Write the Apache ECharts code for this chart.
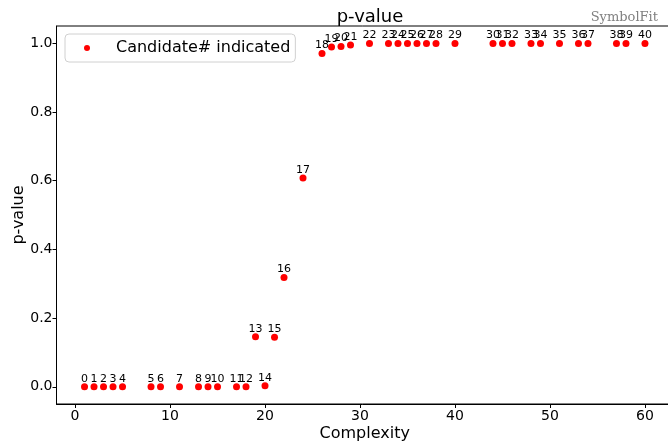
<!DOCTYPE html>
<html>
<head>
<meta charset="utf-8">
<script src="https://cdn.jsdelivr.net/npm/echarts@6/dist/echarts.min.js"></script>
<style>html,body{margin:0;padding:0;background:#fff}#c{width:668px;height:447px}</style>
</head>
<body>
<div id="c"></div>
<script>
const complexity = [1,2,3,4,5,8,9,11,13,14,15,17,18,19,20,21,22,24,26,27,28,29,31,33,34,35,36,37,38,40,44,45,46,48,49,51,53,54,57,58,60];
const pvalue = [0,0,0,0,0,0,0,0,0,0,0,0,0,0.146,0.003,0.144,0.318,0.608,0.970,0.989,0.990,0.995,
  0.999,0.999,0.999,0.999,0.999,0.999,0.999,0.999,0.999,0.999,0.999,0.999,0.999,0.999,0.999,0.999,0.999,0.999,0.999];
const candidates = complexity.map((_, i) => String(i));
const xTicks = [0,10,20,30,40,50,60];
const yTicks = [0,0.2,0.4,0.6,0.8,1.0];

const FONT = 'DejaVu Sans';
const chart = echarts.init(document.getElementById('c'), null, {renderer: 'canvas'});
const data = complexity.map((c, i) => [c, pvalue[i], candidates[i]]);
chart.setOption({
  animation: false,
  textStyle: {fontFamily: FONT},
  title: [
    {text: 'p-value', left: 365, top: 3, textAlign: 'center',
     textStyle: {fontFamily: FONT, fontSize: 18, fontWeight: 'normal', color: '#000'}},
    {text: 'SymbolFit', right: 5, top: 6,
     textStyle: {fontFamily: 'DejaVu Serif', fontSize: 13, fontWeight: 'normal', color: '#808080'}}
  ],
  legend: {
    left: 65, top: 34, padding: [6, 5, 6, 19],
    borderColor: '#d0d0d0', borderWidth: 1, borderRadius: 4,
    backgroundColor: 'rgba(255,255,255,0.8)',
    icon: 'circle', itemWidth: 6, itemHeight: 6,
    textStyle: {fontFamily: FONT, fontSize: 16, color: '#000', padding: [0, 0, 0, 21]},
    data: ['Candidate# indicated']
  },
  grid: {left: 56.5, right: -5, top: 26, bottom: 43, show: true, borderColor: '#000', borderWidth: 1,
    containLabel: false, outerBoundsMode: 'none'},
  xAxis: {
    type: 'value', min: -1.95, max: 62.95,
    name: 'Complexity', nameLocation: 'middle', nameGap: 22, nameMoveOverlap: false,
    nameTextStyle: {fontFamily: FONT, fontSize: 16, color: '#000'},
    axisLine: {show: true, onZero: false, lineStyle: {color: '#000', width: 1}},
    axisTick: {show: true, length: 4, lineStyle: {color: '#000'}, customValues: xTicks},
    axisLabel: {fontFamily: FONT, fontSize: 14, color: '#000', margin: 5, customValues: xTicks},
    splitLine: {show: false}
  },
  yAxis: {
    type: 'value', min: -0.05, max: 1.05,
    name: 'p-value', nameLocation: 'middle', nameGap: 30, nameMoveOverlap: false,
    nameTextStyle: {fontFamily: FONT, fontSize: 16, color: '#000'},
    axisLine: {show: true, onZero: false, lineStyle: {color: '#000', width: 1}},
    axisTick: {show: true, length: 4, lineStyle: {color: '#000'}, customValues: yTicks},
    axisLabel: {fontFamily: FONT, fontSize: 14, color: '#000', margin: 4, customValues: yTicks,
      formatter: v => v.toFixed(1)},
    splitLine: {show: false}
  },
  series: [{
    name: 'Candidate# indicated',
    type: 'scatter',
    symbolSize: 7,
    itemStyle: {color: '#ff0000', opacity: 1},
    data: data,
    label: {
      show: true, position: 'top', distance: -1,
      fontFamily: FONT, fontSize: 11, color: '#000',
      formatter: p => p.data[2]
    }
  }]
});
</script>
</body>
</html>
